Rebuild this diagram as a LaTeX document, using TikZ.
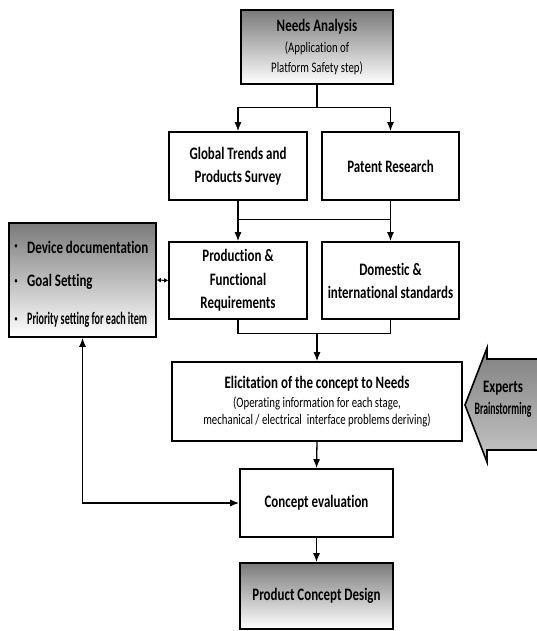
\documentclass[tikz,border=0pt]{standalone}
\usepackage{fontspec}
\setmainfont[FakeStretch=0.74,Ligatures=NoCommon]{Carlito}
\usetikzlibrary{arrows.meta,calc}
\newcommand{\ttl}{\bfseries\fontsize{17.5}{23}\selectfont}
\newcommand{\subtxt}{\mdseries\fontsize{14.6}{19}\selectfont}
\begin{document}
\begin{tikzpicture}[x=1pt,y=-1pt,
  box/.style={draw=black, line width=1.6pt, fill=white, inner sep=0pt, align=center, font=\ttl},
  shadebox/.style={box, top color=black!52, bottom color=white},
  conn/.style={line width=1.3pt},
  arr/.style={conn, -{Latex[length=9pt,width=7pt]}},
  darr/.style={conn, {Latex[length=9pt,width=7pt]}-{Latex[length=9pt,width=7pt]}},
  txt/.style={inner sep=0pt, align=center, font=\ttl}]
\useasboundingbox (0,0) rectangle (537,631);

% boxes
\node[shadebox, minimum width=152pt, minimum height=74pt] (needs) at (317,47)
  {Needs Analysis\\[-2pt] {\subtxt (Application of}\\[-3pt] {\subtxt Platform Safety step)}};
\node[box, minimum width=138pt, minimum height=68pt] (global) at (238,166)
  {Global Trends and\\ Products Survey};
\node[box, minimum width=137pt, minimum height=68pt] (patent) at (390.5,166)
  {Patent Research};
\node[box, minimum width=138pt, minimum height=77pt] (prod) at (238,280.5)
  {Production \&\\[1pt] Functional\\ Requirements};
\node[box, minimum width=137pt, minimum height=77pt] (dom) at (390.5,280.5)
  {Domestic \&\\ international standards};
\node[box, minimum width=290pt, minimum height=79pt] (elic) at (317,401.5)
  {Elicitation of the concept to Needs\\[-4pt] {\subtxt (Operating information for each stage,}\\[-6pt] {\subtxt mechanical / electrical\ \ interface problems deriving)}};
\node[box, minimum width=153pt, minimum height=68pt] (concept) at (316.5,503)
  {Concept evaluation};
\node[shadebox, minimum width=153pt, minimum height=66pt] (product) at (316.5,596)
  {Product Concept Design};

% left box
\node[shadebox, minimum width=147pt, minimum height=114pt] (left) at (82.5,280) {};
\node[txt, anchor=center] (b1) at (16,247) {\fontsize{8}{8}\selectfont\textbullet};
\node[txt, anchor=center] (b2) at (16,282) {\fontsize{8}{8}\selectfont\textbullet};
\node[txt, anchor=center] (b3) at (16,320) {\fontsize{8}{8}\selectfont\textbullet};
\node[txt, anchor=west] (t1) at (27,247) {Device documentation};
\node[txt, anchor=west] (t2) at (27,282) {Goal Setting};
\node[txt, anchor=west] (t3) at (27,320) {\scalebox{0.78}[1]{Priority setting for each item}};

% experts arrow
\shade[top color=black!50, middle color=black!12, bottom color=black!22]
  (537,359) -- (487,359) -- (487,348) -- (465,405) -- (487,462) -- (487,450) -- (537,450) -- cycle;
\draw[line width=1.6pt, line join=miter]
  (537,359) -- (487,359) -- (487,348) -- (465,405) -- (487,462) -- (487,450) -- (537,450);
\node[txt] (ex1) at (503,388) {Experts};
\node[txt] (ex2) at (503,410) {\scalebox{0.75}[1]{Brainstorming}};

% connectors
\coordinate (s1) at ($(needs.south)+(0,23)$);
\draw[conn] (needs.south) -- (s1);
\draw[arr] (s1) -| (global.north);
\draw[arr] (s1) -| (patent.north);

\draw[arr] (global.south) -- (prod.north);
\draw[arr] (patent.south) -- (dom.north);
\coordinate (m1) at ($(global.south)+(0,19)$);
\coordinate (m2) at ($(patent.south)+(0,19)$);
\draw[conn] (m1) -- (m2);

\coordinate (j1) at ($(prod.south)+(0,14)$);
\coordinate (j2) at ($(dom.south)+(0,14)$);
\coordinate (j3) at (elic.north |- j1);
\draw[conn] (prod.south) -- (j1) -- (j2) -- (dom.south);
\draw[arr] (j3) -- (elic.north);

\draw[arr] (elic.south) -- (concept.north);
\draw[arr] (concept.south) -- (product.north);

\draw[darr] (left.south) |- (concept.west);
\draw[line width=1pt, {Latex[length=4pt,width=5pt]}-{Latex[length=4pt,width=5pt]}] (left.east) -- (prod.west);
\end{tikzpicture}
\end{document}
